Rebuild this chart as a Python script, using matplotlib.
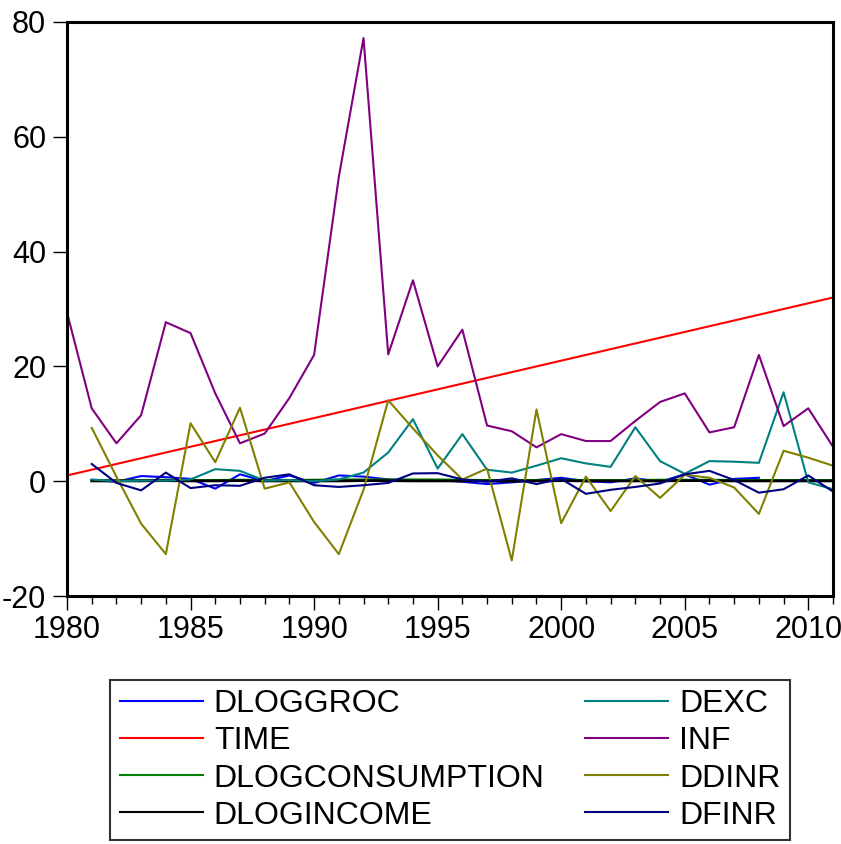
import numpy as np
import matplotlib
matplotlib.use("Agg")
import matplotlib.pyplot as plt
from matplotlib.ticker import MultipleLocator

plt.rcParams['font.family'] = ['Liberation Sans', 'DejaVu Sans']
plt.rcParams['axes.unicode_minus'] = False

years = list(range(1980, 2012))
nan = float('nan')

time_vals = list(range(1, 33))
inf_vals = [29.4, 12.7, 6.6, 11.5, 27.7, 25.8, 15.3, 6.6, 8.3, 14.5, 22.0, 53.0, 77.2, 22.1,
            35.0, 20.0, 26.4, 9.7, 8.7, 5.9, 8.2, 7.0, 7.0, 10.5, 13.8, 15.3, 8.5, 9.4,
            22.0, 9.6, 12.7, 6.0]
ddinr = [nan, 9.3, 0.8, -7.4, -12.7, 10.1, 3.3, 12.8, -1.3, -0.2, -7.1, -12.7, -1.5, 14.1,
         9.2, 4.5, 0.3, 2.2, -13.8, 12.5, -7.3, 0.8, -5.2, 0.9, -2.9, 1.1, 0.6, -1.1,
         -5.7, 5.3, 4.1, 2.7]
dexc = [nan, 0.3, 0.0, 0.1, 0.1, 0.3, 2.1, 1.8, 0.1, 0.2, 0.0, 0.3, 1.5, 5.0,
        10.8, 2.2, 8.2, 2.0, 1.5, 2.7, 4.0, 3.1, 2.5, 9.4, 3.5, 1.3, 3.5, 3.4,
        3.2, 15.5, -0.2, -1.4]
dfinr = [nan, 3.0, -0.3, -1.6, 1.5, -1.2, -0.7, -0.8, 0.6, 1.2, -0.7, -1.0, -0.7, -0.3,
         1.35, 1.4, 0.3, -0.1, 0.5, -0.5, 0.4, -2.2, -1.5, -1.0, -0.4, 1.2, 1.8, 0.2,
         -2.0, -1.4, 1.0, -1.8]
dloggroc = [nan, 0.2, -0.1, 0.9, 0.7, 0.4, -1.3, 1.2, 0.0, 1.0, -0.3, 1.0, 0.8, 0.3,
            0.2, 0.2, -0.1, -0.5, -0.2, 0.2, 0.6, 0.0, -0.2, 0.5, -0.1, 1.2, -0.6, 0.4,
            0.6, nan, nan, nan]
dlogconsumption = [nan, 0.2, 0.15, 0.2, 0.25, 0.2, 0.2, 0.25, 0.2, 0.2, 0.25, 0.3, 0.3, 0.3,
                   0.3, 0.3, 0.25, 0.2, 0.2, 0.2, 0.25, 0.2, 0.2, 0.2, 0.25, 0.25, 0.25, 0.2,
                   0.2, 0.2, 0.2, 0.2]
dlogincome = [nan, 0.05, 0.05, 0.05, 0.1, 0.05, 0.05, 0.1, 0.05, 0.05, 0.05, 0.05, 0.1, 0.1,
              0.05, 0.05, 0.05, 0.05, 0.0, 0.05, 0.1, 0.05, 0.05, 0.05, 0.05, 0.1, 0.1, 0.05,
              0.05, 0.05, 0.05, 0.05]

series = [
    ("DLOGGROC", dloggroc, "#0000ff", 1.5),
    ("TIME", time_vals, "#ff0000", 1.5),
    ("DLOGCONSUMPTION", dlogconsumption, "#008000", 1.5),
    ("DLOGINCOME", dlogincome, "#000000", 2.0),
    ("DEXC", dexc, "#008080", 1.5),
    ("INF", inf_vals, "#800080", 1.5),
    ("DDINR", ddinr, "#808000", 1.5),
    ("DFINR", dfinr, "#000080", 1.5),
]

fig = plt.figure(figsize=(8.41, 8.44), dpi=100)
ax = fig.add_axes([67/841, 1-596/844, (833-67)/841, (596-22)/844])

for name, vals, color, lw in series:
    ax.plot(years, vals, color=color, lw=lw, label=name)

ax.set_xlim(1980, 2011)
ax.set_ylim(-20, 80)
ax.set_yticks([-20, 0, 20, 40, 60, 80])
ax.set_xticks([1980, 1985, 1990, 1995, 2000, 2005, 2010])
ax.xaxis.set_minor_locator(MultipleLocator(1))
ax.tick_params(axis='both', which='major', direction='out', length=10, width=1,
               labelsize=22, colors='black')
ax.tick_params(axis='x', which='minor', direction='out', length=6, width=1)
ax.tick_params(axis='x', pad=4)
ax.tick_params(axis='y', pad=5)
for sp in ax.spines.values():
    sp.set_linewidth(2.2)

leg = fig.legend(loc='center', bbox_to_anchor=(110/841, 1-842/844, 680/841, 164/844),
                 mode='expand', ncol=2, fontsize=23, frameon=True, fancybox=False,
                 handlelength=2.6, handletextpad=0.35, labelspacing=0.22,
                 borderaxespad=0, borderpad=0.3)
leg.get_frame().set_edgecolor('black')
leg.get_frame().set_linewidth(1.5)
for line in leg.get_lines():
    line.set_linewidth(1.5)

fig.savefig("out.png", dpi=100)
